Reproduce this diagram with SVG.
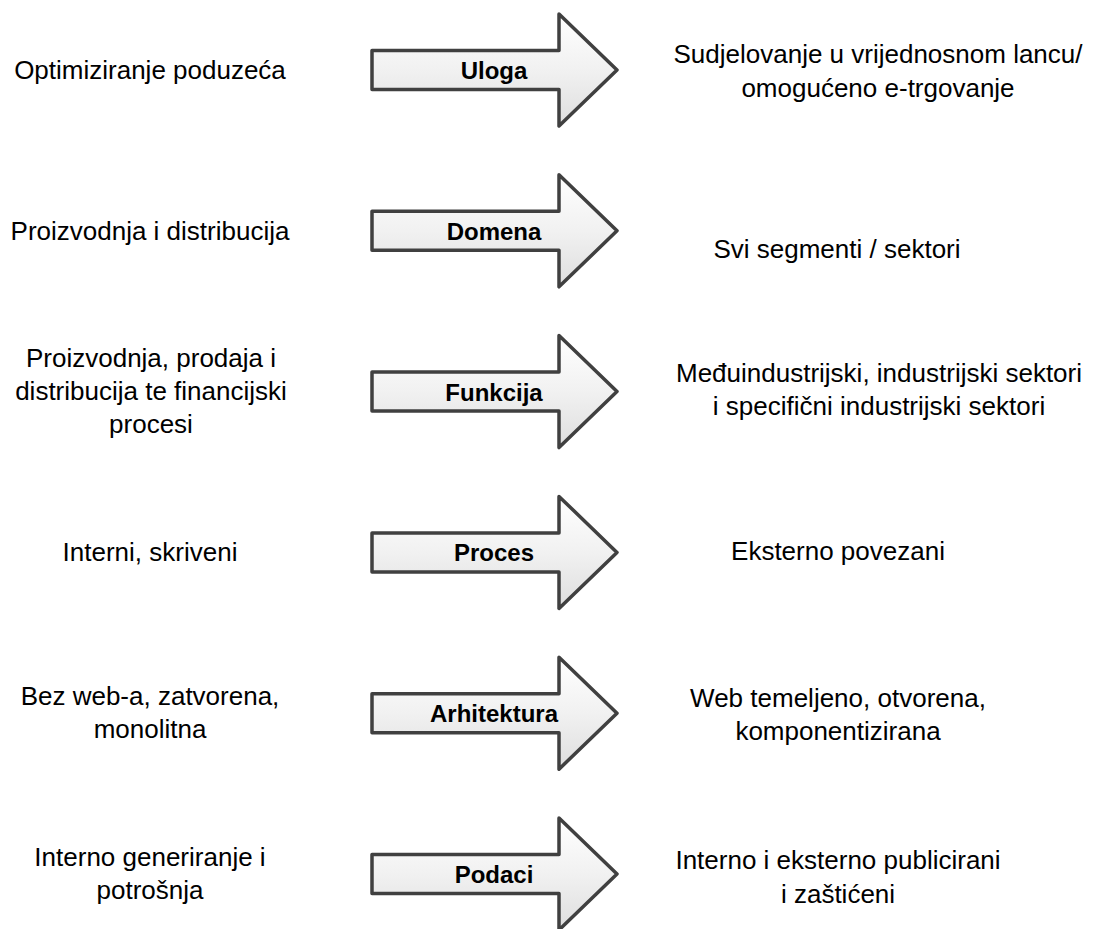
<svg xmlns="http://www.w3.org/2000/svg" xmlns:xlink="http://www.w3.org/1999/xlink" width="1095" height="929" viewBox="0 0 1095 929">
<defs>
<linearGradient id="g" x1="0" y1="0" x2="0" y2="1">
<stop offset="0" stop-color="#ffffff"/>
<stop offset="0.5" stop-color="#f1f1f1"/>
<stop offset="1" stop-color="#dedede"/>
</linearGradient>
<path id="arrow" d="M372,-19.5 L559,-19.5 L559,-56 L617,0 L559,56 L559,19.5 L372,19.5 Z"/>
</defs>
<style>
.arr{fill:url(#g);stroke:#404040;stroke-width:3.5;stroke-linejoin:round}
.t{font-family:"Liberation Sans",Arial,sans-serif;font-size:26px;fill:#000;text-anchor:middle}
.lbl{font-family:"Liberation Sans",Arial,sans-serif;font-size:24px;font-weight:bold;fill:#000;text-anchor:middle}
</style>
<rect width="1095" height="929" fill="#ffffff"/>
<g id="connectors">
<use xlink:href="#arrow" class="arr" transform="translate(0,70)"/>
<use xlink:href="#arrow" class="arr" transform="translate(0,230.8)"/>
<use xlink:href="#arrow" class="arr" transform="translate(0,391.6)"/>
<use xlink:href="#arrow" class="arr" transform="translate(0,552.4)"/>
<use xlink:href="#arrow" class="arr" transform="translate(0,713.2)"/>
<use xlink:href="#arrow" class="arr" transform="translate(0,874)"/>
</g>
<g id="row-uloga">
<text class="t" x="150" y="79">Optimiziranje poduzeća</text>
<text class="lbl" x="494" y="79">Uloga</text>
<text class="t" x="878" y="63">Sudjelovanje u vrijednosnom lancu/</text>
<text class="t" x="878" y="97">omogućeno e-trgovanje</text>
</g>
<g id="row-domena">
<text class="t" x="150" y="240">Proizvodnja i distribucija</text>
<text class="lbl" x="494" y="240">Domena</text>
<text class="t" x="837" y="258">Svi segmenti / sektori</text>
</g>
<g id="row-funkcija">
<text class="t" x="151" y="367">Proizvodnja, prodaja i</text>
<text class="t" x="151" y="400">distribucija te financijski</text>
<text class="t" x="151" y="433">procesi</text>
<text class="lbl" x="494" y="401">Funkcija</text>
<text class="t" x="879" y="382">Međuindustrijski, industrijski sektori</text>
<text class="t" x="879" y="415">i specifični industrijski sektori</text>
</g>
<g id="row-proces">
<text class="t" x="150" y="561">Interni, skriveni</text>
<text class="lbl" x="494" y="561">Proces</text>
<text class="t" x="838" y="560">Eksterno povezani</text>
</g>
<g id="row-arhitektura">
<text class="t" x="150" y="705">Bez web-a, zatvorena,</text>
<text class="t" x="150" y="738">monolitna</text>
<text class="lbl" x="494" y="722">Arhitektura</text>
<text class="t" x="838" y="707">Web temeljeno, otvorena,</text>
<text class="t" x="838" y="740">komponentizirana</text>
</g>
<g id="row-podaci">
<text class="t" x="150" y="866">Interno generiranje i</text>
<text class="t" x="150" y="899">potrošnja</text>
<text class="lbl" x="494" y="883">Podaci</text>
<text class="t" x="838" y="869">Interno i eksterno publicirani</text>
<text class="t" x="838" y="903">i zaštićeni</text>
</g>
</svg>
